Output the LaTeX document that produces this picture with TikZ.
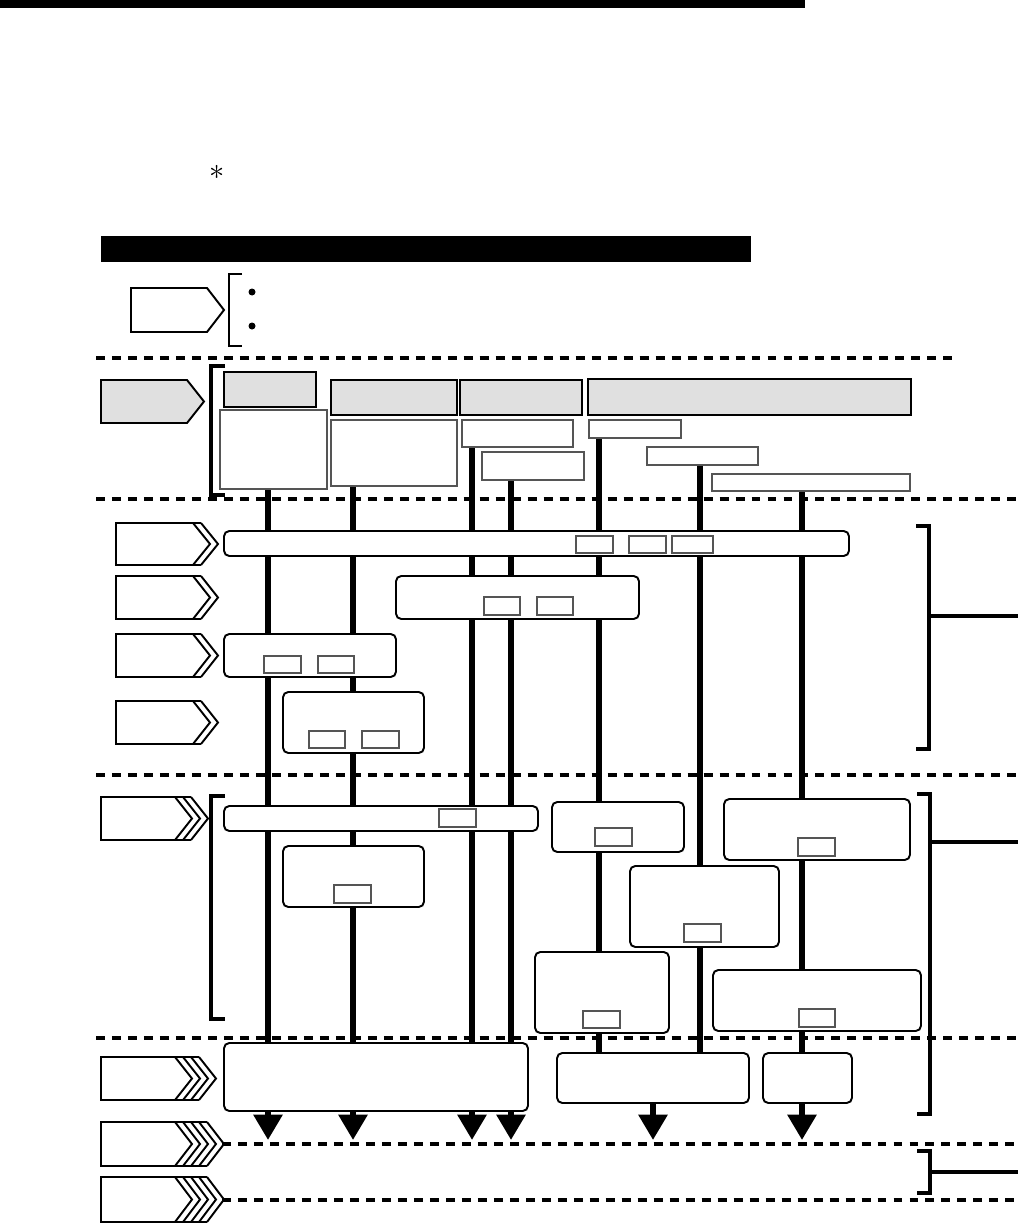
\documentclass[tikz,border=0pt]{standalone}
\usepackage{tikz}
\usepackage{xcolor}
\usetikzlibrary{arrows.meta,fit,backgrounds}
\definecolor{HeadGray}{HTML}{E0E0E0}
\definecolor{EdgeGray}{HTML}{555555}
\tikzset{
    % Section divider
    divider/.style={
        line width=2.3pt,
        dash pattern=on 5.1pt off 4pt
    },
    % Grey header box
    headbox/.style={
        draw,
        fill=HeadGray,
        line width=1.2pt,
        inner sep=0pt
    },
    % Item box under a header
    itembox/.style={
        draw=EdgeGray,
        fill=white,
        line width=0.7pt,
        inner sep=0pt
    },
    % Rounded step box
    stepbox/.style={
        draw,
        fill=white,
        line width=1.1pt,
        rounded corners=3pt,
        inner sep=0pt
    },
    % Small reference box
    refbox/.style={
        draw=EdgeGray,
        fill=white,
        line width=0.6pt,
        inner sep=0pt
    },
    % Vertical flow line
    flowline/.style={
        line width=3.4pt
    },
    % Output arrow
    outarrow/.style={
        -{Triangle[width=16pt,length=14.5pt]},
        line width=3.4pt
    },
    % Brackets
    thinbracket/.style={line width=1.1pt},
    thickbracket/.style={line width=2.3pt},
    % Side tag outline
    tagline/.style={line width=1.1pt, line join=miter}
}
% Side tag: left x, flat end x, top y, bottom y, strokes, fill
\newcommand{\flowtag}[6]{%
  \filldraw[tagline, fill=#6] (#1,#3) -- (#2,#3) -- ({#2+17},{(#3+#4)/2}) -- (#2,#4) -- (#1,#4) -- cycle;
  \ifnum#5>1
    \foreach \sk in {2,...,#5}{
      \draw[tagline] ({#2+(\sk-1)*8},#3) -- ({#2+17+(\sk-1)*8},{(#3+#4)/2}) -- ({#2+(\sk-1)*8},#4);
    }
    \draw[tagline] (#2,#3) -- ({#2+(#5-1)*8},#3) (#2,#4) -- ({#2+(#5-1)*8},#4);
  \fi
}

\begin{document}
\begin{tikzpicture}[x=0.02cm, y=-0.02cm]
    \useasboundingbox (0,0) rectangle (1020,1223);

    % Page rule and heading
    \fill (0,0) rectangle (805,8);
    \node[font=\LARGE, inner sep=0pt] (star) at (217,172) {$\ast$};
    \node[fill=black, inner sep=0pt, fit={(101,236) (751,262)}] (banner) {};

    % Overview
    \flowtag{131}{207}{288}{332}{1}{white}
    \draw[thinbracket] (242,274) -- (229,274) -- (229,346) -- (242,346);
    \fill (252,292) circle (3.5);
    \fill (252,326) circle (3.5);

    % Dividers
    \draw[divider] (96,358) -- (958,358);
    \foreach \y in {499,775,1038}
        \draw[divider] (96,\y) -- (1020,\y);
    \draw[divider] (222,1144) -- (1020,1144);
    \draw[divider] (222,1200) -- (1020,1200);

    % Headers
    \flowtag{101}{187}{380}{423}{1}{HeadGray}
    \draw[thickbracket] (225,366) -- (211,366) -- (211,495) -- (225,495);
    \node[headbox, fit={(224,372) (316,407)}] (h1) {};
    \node[itembox, fit={(220,410) (327,489)}] (i1) {};
    \node[headbox, fit={(331,380) (457,415)}] (h2) {};
    \node[itembox, fit={(331,420) (457,486)}] (i2) {};
    \node[headbox, fit={(460,380) (582,415)}] (h3) {};
    \node[itembox, fit={(462,420) (573,447)}] (i3a) {};
    \node[itembox, fit={(482,452) (584,480)}] (i3b) {};
    \node[headbox, fit={(588,379) (911,415)}] (h4) {};
    \node[itembox, fit={(589,420) (681,438)}] (i4a) {};
    \node[itembox, fit={(647,447) (758,465)}] (i4b) {};
    \node[itembox, fit={(712,474) (910,491)}] (i4c) {};

    % Columns
    \foreach \n/\x in {1/268, 2/353, 3/472, 4/511, 5/599, 6/700, 7/802}
        \coordinate (c\n) at (\x,0);
    \coordinate (outrow) at (0,1140);

    % Section 2: single steps
    \foreach \t/\b in {523/565, 576/619, 634/677, 701/744}
        {\flowtag{116}{193}{\t}{\b}{2}{white}}
    \node[stepbox, fit={(224,531) (849,556)}] (s1) {};
    \node[refbox, fit={(576,536) (613,553)}] (s1a) {};
    \node[refbox, fit={(629,536) (666,553)}] (s1b) {};
    \node[refbox, fit={(672,536) (713,553)}] (s1c) {};
    \node[stepbox, fit={(396,576) (639,619)}] (s2) {};
    \node[refbox, fit={(484,597) (520,615)}] (s2a) {};
    \node[refbox, fit={(537,597) (573,615)}] (s2b) {};
    \node[stepbox, fit={(224,634) (396,677)}] (s3) {};
    \node[refbox, fit={(264,656) (301,673)}] (s3a) {};
    \node[refbox, fit={(318,656) (354,673)}] (s3b) {};
    \node[stepbox, fit={(283,692) (424,753)}] (s4) {};
    \node[refbox, fit={(309,731) (345,748)}] (s4a) {};
    \node[refbox, fit={(362,731) (399,748)}] (s4b) {};
    \draw[thickbracket] (916,526) -- (929,526) -- (929,749) -- (916,749) (929,616) -- (1018,616);

    % Section 3: processing
    \flowtag{101}{175}{797}{840}{3}{white}
    \draw[thickbracket] (225,796) -- (211,796) -- (211,1019) -- (225,1019);
    \node[stepbox, fit={(224,806) (538,831)}] (p1) {};
    \node[refbox, fit={(439,809) (476,827)}] (p1a) {};
    \node[stepbox, fit={(283,846) (424,907)}] (p2) {};
    \node[refbox, fit={(334,885) (371,903)}] (p2a) {};
    \node[stepbox, fit={(552,802) (684,852)}] (p3) {};
    \node[refbox, fit={(595,828) (632,846)}] (p3a) {};
    \node[stepbox, fit={(724,799) (910,860)}] (p4) {};
    \node[refbox, fit={(798,838) (835,856)}] (p4a) {};
    \node[stepbox, fit={(630,866) (779,947)}] (p5) {};
    \node[refbox, fit={(684,924) (721,942)}] (p5a) {};
    \node[stepbox, fit={(535,952) (669,1033)}] (p6) {};
    \node[refbox, fit={(583,1011) (620,1028)}] (p6a) {};
    \node[stepbox, fit={(713,970) (921,1031)}] (p7) {};
    \node[refbox, fit={(799,1009) (835,1027)}] (p7a) {};
    \draw[thickbracket] (917,794) -- (930,794) -- (930,1114) -- (917,1114) (930,842) -- (1018,842);

    % Section 4: end steps
    \flowtag{101}{175}{1057}{1100}{4}{white}
    \node[stepbox, fit={(224,1043) (528,1111)}] (e1) {};
    \node[stepbox, fit={(557,1053) (749,1103)}] (e2) {};
    \node[stepbox, fit={(763,1053) (852,1103)}] (e3) {};

    % Section 5: results
    \flowtag{101}{175}{1122}{1166}{5}{white}
    \flowtag{101}{175}{1177}{1222}{5}{white}
    \draw[thickbracket] (917,1151) -- (930,1151) -- (930,1193) -- (917,1193) (930,1172) -- (1018,1172);

    % Flow lines behind the boxes
    \begin{scope}[on background layer]
        \draw[flowline] (i1.south -| c1) -- (e1.north -| c1);
        \draw[flowline] (i2.south -| c2) -- (e1.north -| c2);
        \draw[flowline] (i3a.south -| c3) -- (e1.north -| c3);
        \draw[flowline] (i3b.south -| c4) -- (e1.north -| c4);
        \draw[flowline] (i4a.south -| c5) -- (e2.north -| c5);
        \draw[flowline] (i4b.south -| c6) -- (e2.north -| c6);
        \draw[flowline] (i4c.south -| c7) -- (e3.north -| c7);
    \end{scope}

    % Outputs
    \foreach \n in {1,...,4}
        \draw[outarrow] (e1.south -| c\n) -- (outrow -| c\n);
    \draw[outarrow] (e2.south) -- (outrow -| e2.south);
    \draw[outarrow] (e3.south -| c7) -- (outrow -| c7);
\end{tikzpicture}
\end{document}
